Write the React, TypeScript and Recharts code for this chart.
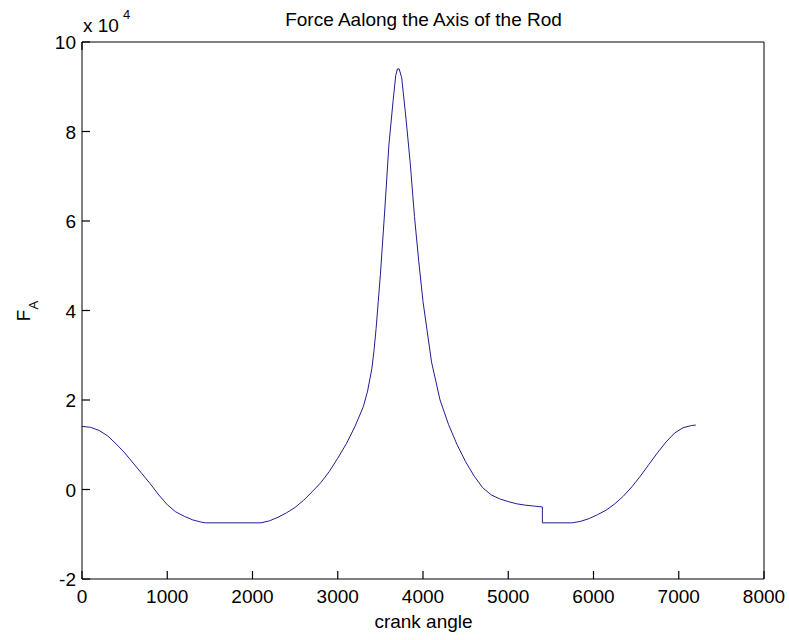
import { LineChart, Line, XAxis, YAxis } from 'recharts';

// crank angle (x) and axial force F_A (y)
const crankAngle = [
  0, 100, 200, 300, 400, 500, 600, 700, 800, 900, 1000, 1100, 1200, 1300, 1400, 1450,
  2100, 2200, 2300, 2400, 2500, 2600, 2700, 2800, 2900, 3000, 3100, 3200, 3300, 3350, 3400,
  3425, 3450, 3475, 3500, 3550, 3600, 3650, 3680, 3700, 3720, 3750, 3800, 3850, 3900, 3950, 4000,
  4100, 4200, 4300, 4400, 4500, 4600, 4700, 4800, 4900, 5000, 5100, 5200, 5300, 5400,
  5400, 5750, 5850, 5950, 6050, 6150, 6250, 6350, 6450, 6550, 6650, 6750, 6850, 6950,
  7050, 7150, 7200,
];
const forceA = [
  14100, 13900, 13200, 12000, 10200, 8200, 5900, 3600, 1300, -1200, -3400, -5000, -6000, -6800, -7300, -7450,
  -7450, -7000, -6200, -5200, -4000, -2400, -500, 1500, 4000, 7000, 10200, 14000, 18500, 22000, 27000,
  31000, 36000, 42000, 48000, 62000, 77000, 87000, 92500, 94000, 94000, 92000, 83000, 73000, 61000, 51000, 42000,
  28500, 20000, 14500, 10000, 6200, 3000, 400, -1200, -2100, -2700, -3200, -3500, -3700, -3900,
  -7450, -7450, -7100, -6500, -5600, -4600, -3200, -1500, 600, 3000, 5600, 8200, 10600, 12600,
  13800, 14300, 14400,
];

const xTicks = [0, 1000, 2000, 3000, 4000, 5000, 6000, 7000, 8000];
const yTicks = [-20000, 0, 20000, 40000, 60000, 80000, 100000];

const data = crankAngle.map((a, i) => ({ angle: a, force: forceA[i] }));

const FONT = '"Liberation Sans", Arial, sans-serif';
const TICK = 8;

const BottomTick = (props: any) => {
  const { x, y, payload } = props;
  return (
    <g>
      <path d={`M${x},${y}V${y - TICK}`} stroke="#000" strokeWidth={1.2} fill="none" />
      <text x={x} y={y + 24} textAnchor="middle" fontSize={19} fontFamily={FONT} fill="#000">
        {payload.value}
      </text>
    </g>
  );
};

const TopTick = (props: any) => {
  const { x, y } = props;
  return <path d={`M${x},${y}V${y + TICK}`} stroke="#000" strokeWidth={1.2} fill="none" />;
};

const LeftTick = (props: any) => {
  const { x, y, payload } = props;
  return (
    <g>
      <path d={`M${x},${y}H${x + TICK}`} stroke="#000" strokeWidth={1.2} fill="none" />
      <text x={x - 6} y={y + 7} textAnchor="end" fontSize={19} fontFamily={FONT} fill="#000">
        {payload.value / 10000}
      </text>
    </g>
  );
};

const RightTick = (props: any) => {
  const { x, y } = props;
  return <path d={`M${x},${y}H${x - TICK}`} stroke="#000" strokeWidth={1.2} fill="none" />;
};

export default function App() {
  return (
    <div style={{ position: 'absolute', left: 0, top: 0, width: 789, height: 640, background: '#fff' }}>
      <LineChart width={789} height={640} data={data} margin={{ top: 41, right: 24, bottom: 0, left: 0 }}>
        <XAxis
          xAxisId="b"
          dataKey="angle"
          type="number"
          domain={[0, 8000]}
          ticks={xTicks}
          height={61}
          tickSize={0}
          tickMargin={0}
          tickLine={false}
          tick={BottomTick}
          axisLine={{ stroke: '#000' }}
          interval={0}
        />
        <XAxis
          xAxisId="t"
          orientation="top"
          type="number"
          domain={[0, 8000]}
          ticks={xTicks}
          height={1}
          tickSize={0}
          tickMargin={0}
          tickLine={false}
          tick={TopTick}
          axisLine={{ stroke: '#000' }}
          interval={0}
        />
        <YAxis
          yAxisId="l"
          type="number"
          domain={[-20000, 100000]}
          ticks={yTicks}
          width={82}
          tickSize={0}
          tickMargin={0}
          tickLine={false}
          tick={LeftTick}
          axisLine={{ stroke: '#000' }}
          interval={0}
        />
        <YAxis
          yAxisId="r"
          orientation="right"
          type="number"
          domain={[-20000, 100000]}
          ticks={yTicks}
          width={1}
          tickSize={0}
          tickMargin={0}
          tickLine={false}
          tick={RightTick}
          axisLine={{ stroke: '#000' }}
          interval={0}
        />
        <Line
          xAxisId="b"
          yAxisId="l"
          type="linear"
          dataKey="force"
          stroke="#1f1f8f"
          strokeWidth={1}
          dot={false}
          isAnimationActive={false}
        />
      </LineChart>
      <svg width={789} height={640} style={{ position: 'absolute', left: 0, top: 0, pointerEvents: 'none' }}>
        <text x={423.5} y={26} textAnchor="middle" fontSize={19} fontFamily={FONT} fill="#000">
          Force Aalong the Axis of the Rod
        </text>
        <text x={83} y={32} fontSize={19} fontFamily={FONT} fill="#000">
          x 10
        </text>
        <text x={123} y={19} fontSize={13} fontFamily={FONT} fill="#000">
          4
        </text>
        <text x={423.5} y={628} textAnchor="middle" fontSize={19} fontFamily={FONT} fill="#000">
          crank angle
        </text>
        <text transform="translate(30,311) rotate(-90)" textAnchor="middle" fontSize={19} fontFamily={FONT} fill="#000">
          F<tspan fontSize={13} dy={8}>A</tspan>
        </text>
      </svg>
    </div>
  );
}
